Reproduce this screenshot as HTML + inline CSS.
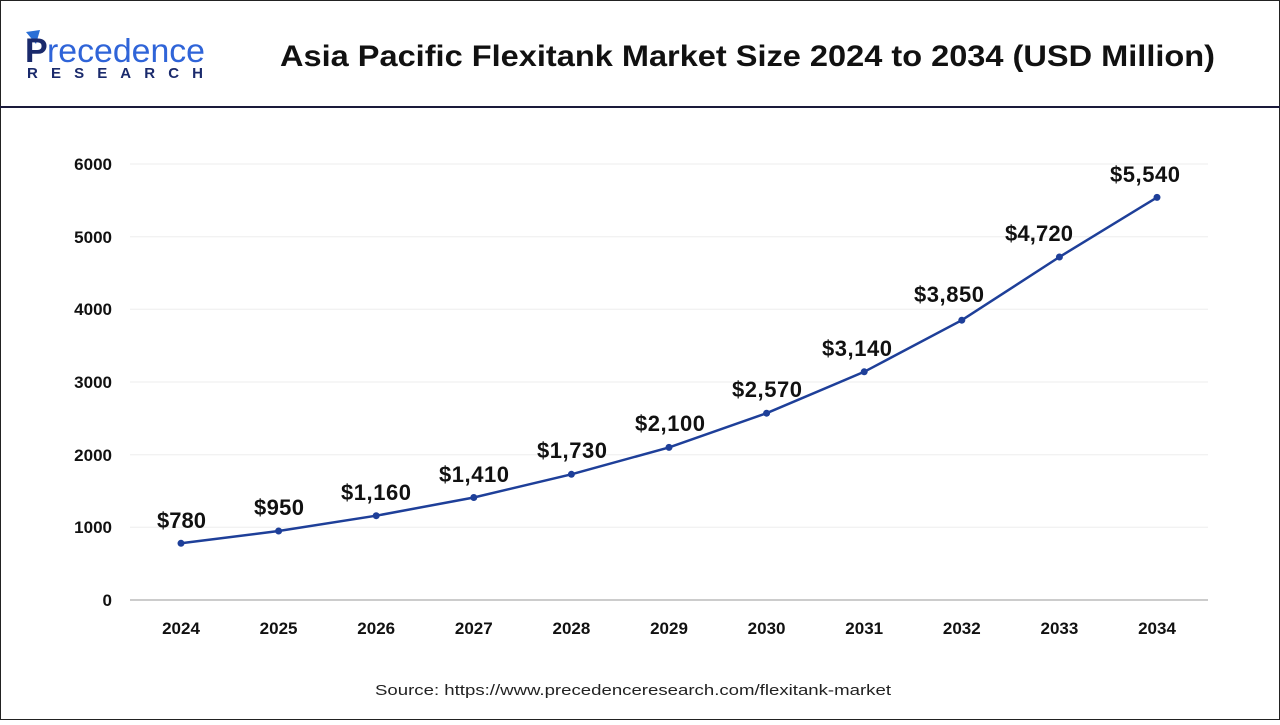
<!DOCTYPE html>
<html><head><meta charset="utf-8"><style>
body{margin:0;width:1280px;height:720px;overflow:hidden;background:#fff;font-family:"Liberation Sans",Arial,sans-serif}
</style></head><body>
<svg width="1280" height="720" xmlns="http://www.w3.org/2000/svg" font-family="Liberation Sans, Arial, sans-serif">
<rect x="0.5" y="0.5" width="1279" height="719" fill="#fff" stroke="#222" stroke-width="1"/>
<rect x="0" y="106" width="1280" height="2" fill="#1a1a3a"/>
<path d="M26 32 L40 30 L36 44 Z" fill="#2a6fd6"/>
<text x="25" y="62" font-size="34" font-weight="bold" fill="#1a2a6c">P</text>
<text x="47" y="62" font-size="33" fill="#2f64d8" textLength="158" lengthAdjust="spacingAndGlyphs">recedence</text>
<text x="27" y="78" font-size="15" font-weight="bold" fill="#1a2a6c" textLength="176" lengthAdjust="spacing">RESEARCH</text>
<text x="280" y="66" font-size="30" font-weight="bold" fill="#111" textLength="935" lengthAdjust="spacingAndGlyphs">Asia Pacific Flexitank Market Size 2024 to 2034 (USD Million)</text>
<g stroke="#eee" stroke-width="1">
<line x1="130" x2="1208" y1="164" y2="164"/><line x1="130" x2="1208" y1="236.7" y2="236.7"/>
<line x1="130" x2="1208" y1="309.3" y2="309.3"/><line x1="130" x2="1208" y1="382" y2="382"/>
<line x1="130" x2="1208" y1="454.7" y2="454.7"/><line x1="130" x2="1208" y1="527.3" y2="527.3"/>
</g>
<line x1="130" x2="1208" y1="600" y2="600" stroke="#bbb" stroke-width="1.5"/>
<g font-size="17" font-weight="bold" fill="#111" text-anchor="end">
<text x="112" y="170">6000</text><text x="112" y="243">5000</text><text x="112" y="315">4000</text>
<text x="112" y="388">3000</text><text x="112" y="461">2000</text><text x="112" y="533">1000</text><text x="112" y="606">0</text>
</g>
<g font-size="17" font-weight="bold" fill="#111" text-anchor="middle">
<text x="181" y="634">2024</text><text x="278.6" y="634">2025</text><text x="376.2" y="634">2026</text>
<text x="473.8" y="634">2027</text><text x="571.4" y="634">2028</text><text x="669" y="634">2029</text>
<text x="766.6" y="634">2030</text><text x="864.2" y="634">2031</text><text x="961.8" y="634">2032</text>
<text x="1059.4" y="634">2033</text><text x="1157" y="634">2034</text>
</g>
<polyline fill="none" stroke="#1e3f99" stroke-width="2.5" points="181,543.3 278.6,531 376.2,515.7 473.8,497.5 571.4,474.3 669,447.4 766.6,413.2 864.2,371.8 961.8,320.2 1059.4,257 1157,197.4"/>
<g fill="#1e3f99">
<circle cx="181" cy="543.3" r="3.5"/><circle cx="278.6" cy="531" r="3.5"/><circle cx="376.2" cy="515.7" r="3.5"/>
<circle cx="473.8" cy="497.5" r="3.5"/><circle cx="571.4" cy="474.3" r="3.5"/><circle cx="669" cy="447.4" r="3.5"/>
<circle cx="766.6" cy="413.2" r="3.5"/><circle cx="864.2" cy="371.8" r="3.5"/><circle cx="961.8" cy="320.2" r="3.5"/>
<circle cx="1059.4" cy="257" r="3.5"/><circle cx="1157" cy="197.4" r="3.5"/>
</g>
<g font-size="22" font-weight="bold" fill="#111" text-anchor="middle" lengthAdjust="spacingAndGlyphs">
<text x="181.5" y="528" textLength="49">$780</text><text x="279" y="515" textLength="50">$950</text><text x="376" y="500" textLength="70">$1,160</text>
<text x="474" y="482" textLength="70">$1,410</text><text x="572" y="458" textLength="70">$1,730</text><text x="670" y="431" textLength="70">$2,100</text>
<text x="767" y="397" textLength="70">$2,570</text><text x="857" y="356" textLength="70">$3,140</text><text x="949" y="302" textLength="70">$3,850</text>
<text x="1039" y="241" textLength="68">$4,720</text><text x="1145" y="182" textLength="70">$5,540</text>
</g>
<text x="375" y="695" font-size="15" fill="#222" textLength="516" lengthAdjust="spacingAndGlyphs">Source: https://www.precedenceresearch.com/flexitank-market</text>
</svg>
</body></html>
